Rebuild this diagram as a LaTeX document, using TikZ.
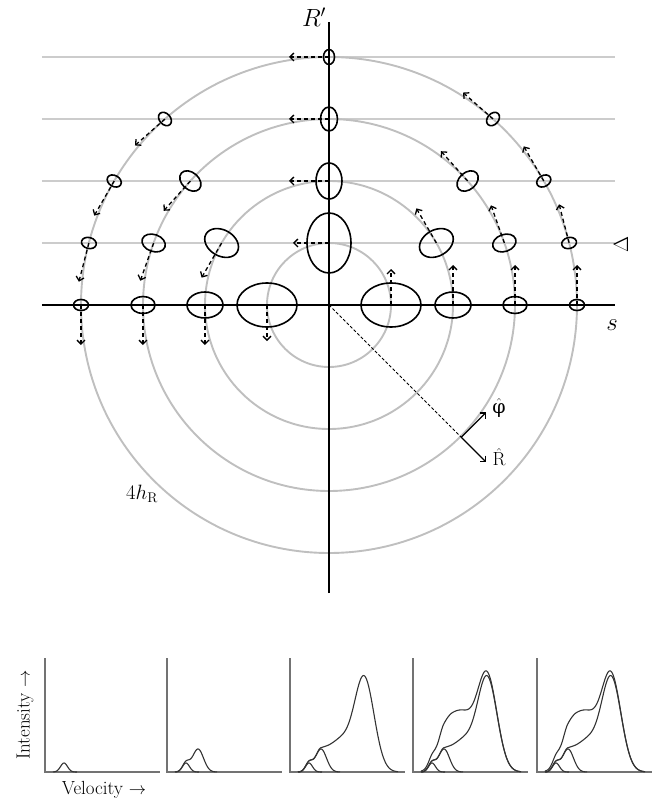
\documentclass[tikz,border=0pt]{standalone}
\usepackage{fontspec}
\newfontfamily\grk{DejaVu Serif}
\usetikzlibrary{arrows.meta}
\begin{document}
\begin{tikzpicture}[x=1pt,y=1pt,
  gridline/.style={draw=black!20, line width=1.3pt},
  ring/.style={draw=black!25, line width=1.9pt},
  mainaxis/.style={draw=black, line width=1.3pt},
  blob/.style={draw=black, line width=1.6pt},
  motion/.style={draw=black, line width=1.3pt, dash pattern=on 4pt off 3pt, -{Straight Barb[length=4pt,width=8pt]}},
  unitvec/.style={draw=black, line width=1.3pt, -{Straight Barb[length=4pt,width=8pt]}},
  radline/.style={draw=black, line width=1pt, dash pattern=on 3pt off 2pt},
  paxis/.style={draw=black!55, line width=1.6pt},
  prof/.style={draw=black!80, line width=1.1pt},
  lab/.style={font=\fontsize{19}{22}\selectfont, inner sep=0pt},
  declare function={
    cS(\x)=9*exp(max(-((\x-19)*(\x-19))/24.5,-15));
    cM(\x)=23*exp(max(-((\x-31)*(\x-31))/60.5,-15));
    cMw(\x)=(\x<31)*cM(\x)+(\x>=31)*23*exp(max(-((\x-31)*(\x-31))/450,-15));
    cW(\x)=20*exp(max(-((\x-52)*(\x-52))/162,-15));
    cB(\x)=95*exp(max(-((\x-74)*(\x-74))/200,-15));
    cU(\x)=32*exp(max(-((\x-40)*(\x-40))/((\x<40)*288+(\x>=40)*578),-15));
    cThree(\x)=cS(\x)+cMw(\x)+cW(\x)+cB(\x);
  }]
\useasboundingbox (-329,-498) rectangle (335,305);

% grey horizontal lines
\foreach \jj in {1,...,4} {
  \coordinate (hl\jj) at (-287,62*\jj);
  \coordinate (hr\jj) at (286,62*\jj);
  \draw[gridline] (hl\jj) -- (hr\jj);
}
% grey circles
\coordinate (O) at (0,0);
\foreach \kk in {1,...,4} {
  \draw[ring] (O) circle (62*\kk);
}
% axes
\coordinate (xl) at (-287,0);
\coordinate (xr) at (286,0);
\coordinate (yt) at (0,283);
\coordinate (yb) at (0,-288);
\draw[mainaxis] (xl) -- (xr);
\draw[mainaxis] (yb) -- (yt);

% ellipses with motion arrows
\foreach \kk/\ea/\eb/\len in {1/30/22/36, 2/18/13/40, 3/12/8.5/40, 4/7.5/5.5/40} {
  \foreach \jj in {0,...,\kk} {
    \pgfmathsetmacro\ang{asin(\jj/\kk)}
    \pgfmathsetmacro\rr{62*\kk}
    \coordinate (e\kk\jj r) at (\ang:\rr);
    \draw[blob, rotate around={\ang:(e\kk\jj r)}] (e\kk\jj r) ellipse ({\ea} and {\eb});
    \draw[motion] (e\kk\jj r) -- ++(\ang+90:\len);
    \ifnum\jj<\kk
      \pgfmathsetmacro\angl{180-\ang}
      \coordinate (e\kk\jj l) at (\angl:\rr);
      \draw[blob, rotate around={\angl:(e\kk\jj l)}] (e\kk\jj l) ellipse ({\ea} and {\eb});
      \draw[motion] (e\kk\jj l) -- ++(\angl+90:\len);
    \fi
  }
}

% radius and unit vectors
\coordinate (P) at (-45:187);
\coordinate (Rtip) at (-45:222);
\draw[radline] (O) -- (P);
\draw[unitvec] (P) -- (Rtip);
\draw[unitvec] (P) -- ++(45:35) coordinate (Ptip);
\node[lab] (phihat) at (170,-103) {$\hat{\mbox{\grk φ}}$};
\node[lab] (Rhat) at (170,-152) {$\hat{\mathrm{R}}$};

% axis labels
\node[lab, font=\fontsize{25}{28}\selectfont] (Rprime) at (-15,288) {$R'$};
\node[lab, font=\fontsize{28}{30}\selectfont] (slab) at (283,-20) {$s$};
\node[lab, rotate=90, font=\fontsize{21}{24}\selectfont] (Dlab) at (292,61) {$\Delta$};
\node[lab, font=\fontsize{20}{22}\selectfont] (hR) at (-187,-189) {$4h_{\mathrm{R}}$};

% profile panels
\foreach \px/\lvl in {-284/1, -162/2, -39/3, 84/4, 208/5} {
  \begin{scope}[shift={(\px,-467)}]
    \coordinate (pt\lvl) at (0,114);
    \coordinate (po\lvl) at (0,0);
    \coordinate (pr\lvl) at (115,0);
    \draw[paxis] (pt\lvl) -- (po\lvl) -- (pr\lvl);
    \draw[prof] plot[domain=8:32, samples=40] (\x,{cS(\x)});
    \ifnum\lvl>1
      \draw[prof] plot[domain=8:50, samples=70] (\x,{cS(\x)+cM(\x)});
    \fi
    \ifnum\lvl>2
      \draw[prof] plot[domain=8:108, samples=150] (\x,{cThree(\x)});
    \fi
    \ifnum\lvl>3
      \draw[prof] plot[domain=8:108, samples=150] (\x,{cThree(\x)+cU(\x)});
    \fi
  \end{scope}
}
\node[lab, rotate=90] (Ilab) at (-304,-410) {Intensity $\rightarrow$};
\node[lab] (Vlab) at (-225,-485) {Velocity $\rightarrow$};
\end{tikzpicture}
\end{document}
